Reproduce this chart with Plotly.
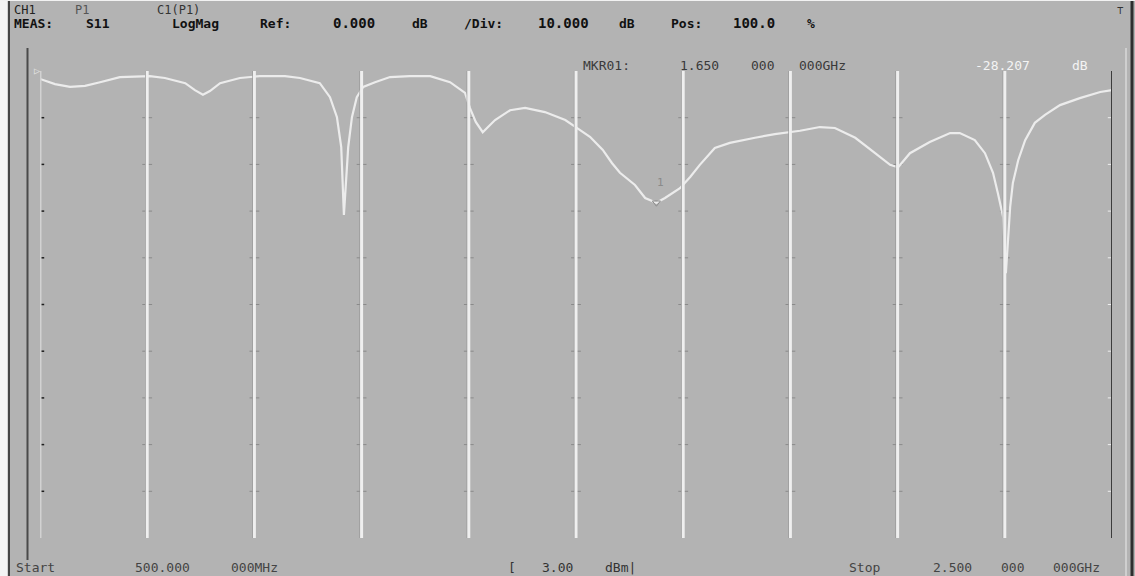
import plotly.graph_objects as go

W, H = 1135, 576

# S11 sweep, 500 MHz .. 2.5 GHz (frequency in MHz, magnitude in dB)
freq_mhz = [500, 528, 556, 584, 612, 649, 705, 733, 771, 789, 804, 817, 836, 873, 910,
            957, 985, 1022, 1041, 1054, 1062, 1067, 1075, 1082, 1091, 1103, 1125, 1153,
            1190, 1228, 1265, 1293, 1302, 1313, 1326, 1349, 1377, 1405, 1442, 1480, 1507,
            1526, 1550, 1567, 1582, 1610, 1629, 1650, 1666, 1694, 1713, 1731, 1759, 1787,
            1834, 1871, 1918, 1955, 1983, 2021, 2058, 2086, 2101, 2123, 2160, 2198, 2216,
            2244, 2263, 2278, 2287, 2297, 2302, 2310, 2315, 2325, 2338, 2356, 2375, 2403,
            2440, 2478, 2500]
s11_db = [-1.7, -2.8, -3.4, -3.2, -2.4, -1.3, -1.1, -1.5, -2.6, -4.1, -5.1, -4.3, -2.6,
          -1.5, -1.1, -1.1, -1.5, -2.6, -5.6, -9.9, -16.3, -30.8, -16.3, -9.9, -5.6, -3.4,
          -2.4, -1.3, -1.1, -1.1, -2.4, -4.7, -7.9, -10.9, -13.1, -10.5, -8.4, -7.9, -8.8,
          -10.5, -12.6, -14.1, -16.9, -19.7, -21.8, -24.4, -27.2, -28.207, -27.2, -25.1,
          -22.7, -20.1, -16.5, -15.4, -14.3, -13.5, -12.8, -12.0, -12.2, -14.3, -17.6,
          -20.1, -20.6, -17.6, -15.2, -13.3, -13.3, -14.8, -17.6, -21.8, -26.1, -31.3,
          -43.3, -29.1, -24.0, -19.1, -14.8, -11.1, -9.4, -7.3, -5.8, -4.5, -4.1]

# instrument settings
start_mhz, stop_mhz = 500, 2500
ref_db, div_db, n_div = 0.0, 10.0, 10
marker_mhz, marker_db = 1650, -28.207

bg = "#b3b3b3"


def px(x):
    return x / W


def py(y):
    return 1 - y / H


x_lo, x_hi = 40, 1112
y_top, y_bot = 71, 538

fig = go.Figure()

# graticule: vertical division lines
step = (stop_mhz - start_mhz) / n_div
grid_x = [start_mhz + step * k for k in range(1, n_div)]
mhz_per_px = (stop_mhz - start_mhz) / (x_hi - x_lo)
shapes = []
for gx in grid_x:
    shapes.append(dict(type="line", xref="x", yref="y", x0=gx - 1.6 * mhz_per_px,
                       x1=gx - 1.6 * mhz_per_px, y0=ref_db - div_db * n_div, y1=ref_db,
                       line=dict(color="#8e8e8e", width=1)))
    shapes.append(dict(type="line", xref="x", yref="y", x0=gx, x1=gx,
                       y0=ref_db - div_db * n_div, y1=ref_db,
                       line=dict(color="#efefef", width=3)))

# left and right graticule edges
shapes.append(dict(type="line", xref="x", yref="y", x0=start_mhz, x1=start_mhz,
                   y0=ref_db - div_db * n_div, y1=ref_db,
                   line=dict(color="#d2d2d2", width=3)))
shapes.append(dict(type="line", xref="x", yref="y", x0=stop_mhz, x1=stop_mhz,
                   y0=ref_db - div_db * n_div, y1=ref_db,
                   line=dict(color="#3c3c3c", width=2)))

# screen frame
shapes += [
    dict(type="rect", xref="paper", yref="paper", x0=0, x1=px(7.5), y0=0, y1=1,
         fillcolor="#f4f4f4", line=dict(width=0), layer="below"),
    dict(type="line", xref="paper", yref="paper", x0=px(9), x1=px(9), y0=0, y1=1,
         line=dict(color="#444444", width=2)),
    dict(type="line", xref="paper", yref="paper", x0=px(27.5), x1=px(27.5),
         y0=py(560), y1=py(48), line=dict(color="#4a4a4a", width=2)),
    dict(type="line", xref="paper", yref="paper", x0=px(1126), x1=px(1126),
         y0=0, y1=py(48), line=dict(color="#cfcfcf", width=2)),
    dict(type="line", xref="paper", yref="paper", x0=px(1132), x1=px(1132),
         y0=0, y1=1, line=dict(color="#2e2e2e", width=3)),
    dict(type="line", xref="paper", yref="paper", x0=0, x1=1, y0=py(0.5), y1=py(0.5),
         line=dict(color="#f2f2f2", width=1)),
]

# tick dashes on every division line
levels = [ref_db - div_db * i for i in range(n_div + 1)]
tx, ty = [], []
for gx in grid_x:
    for lv in levels[1:-1]:
        tx.append(gx)
        ty.append(lv)
fig.add_trace(go.Scatter(x=tx, y=ty, mode="markers", hoverinfo="skip", showlegend=False,
                         marker=dict(symbol="line-ew", size=7,
                                     line=dict(color="#8a8a8a", width=1))))
fig.add_trace(go.Scatter(x=[start_mhz] * (n_div - 1), y=levels[1:-1], mode="markers",
                         hoverinfo="skip", showlegend=False,
                         marker=dict(symbol="line-ew", size=6,
                                     line=dict(color="#1e1e1e", width=1.5))))
fig.add_trace(go.Scatter(x=[stop_mhz] * (n_div - 1), y=levels[1:-1], mode="markers",
                         hoverinfo="skip", showlegend=False,
                         marker=dict(symbol="line-ew", size=6,
                                     line=dict(color="#eeeeee", width=1))))

# measured trace
fig.add_trace(go.Scatter(x=freq_mhz, y=s11_db, mode="lines", showlegend=False,
                         line=dict(color="#ececec", width=2.2)))

# marker 1
fig.add_trace(go.Scatter(x=[marker_mhz], y=[marker_db], mode="markers", showlegend=False,
                         marker=dict(symbol="triangle-down-open", size=7, color="#8c8c8c",
                                     line=dict(color="#8c8c8c", width=1))))

ann = []


def label(x, y, text, size=12, color="#111111", bold=False, family="DejaVu Sans Mono",
          anchor="left"):
    t = f"<b>{text}</b>" if bold else text
    ann.append(dict(x=px(x), y=py(y), xref="paper", yref="paper", text=t, showarrow=False,
                    xanchor=anchor, yanchor="middle",
                    font=dict(family=family, size=size, color=color)))


# header, line 1
label(12, 10, "CH1", 12, "#222222")
label(73, 10, "P1", 12, "#555555")
label(155, 10, "C1(P1)", 12, "#333333")
# header, line 2
hdr = "#111111"
label(12, 23, "MEAS:", 13, hdr, True)
label(84, 23, "S11", 13, hdr, True)
label(170, 23, "LogMag", 13, hdr, True)
label(258, 23, "Ref:", 13, hdr, True)
label(331, 23, f"{ref_db:.3f}", 14, hdr, True)
label(410, 23, "dB", 13, hdr, True)
label(462, 23, "/Div:", 13, hdr, True)
label(536, 23, f"{div_db:.3f}", 14, hdr, True)
label(617, 23, "dB", 13, hdr, True)
label(669, 23, "Pos:", 13, hdr, True)
label(731, 23, "100.0", 14, hdr, True)
label(805, 23, "%", 13, hdr, True)

# marker readout
mk = "#3a3a3a"
label(581, 65, "MKR01:", 13, mk)
label(678, 65, "1.650", 13, mk)
label(749, 65, "000", 13, mk)
label(797, 65, "000GHz", 13, mk)
label(973, 65, f"{marker_db:.3f}", 13, "#f4f4f4")
label(1070, 65, "dB", 13, "#f4f4f4")

# footer
ft = "#444444"
label(14, 567, "Start", 13, ft)
label(133, 567, "500.000", 13, ft)
label(229, 567, "000MHz", 13, ft)
label(506, 567, "[", 13, "#333333")
label(540, 567, "3.00", 13, "#333333")
label(603, 567, "dBm|", 13, "#333333")
label(847, 567, "Stop", 13, ft)
label(931, 567, "2.500", 13, ft)
label(999, 567, "000", 13, ft)
label(1051, 567, "000GHz", 13, ft)

# on-screen symbols
label(32, 70, "▷", 10, "#e6e6e6")
label(1115, 10, "⊤", 11, "#333333")
ann.append(dict(x=marker_mhz + 8, y=marker_db + 4.3, xref="x", yref="y", text="1",
                showarrow=False, font=dict(family="DejaVu Sans Mono", size=11,
                                           color="#8a8a8a")))

fig.update_layout(
    width=W, height=H, margin=dict(l=0, r=0, t=0, b=0),
    paper_bgcolor=bg, plot_bgcolor=bg,
    shapes=shapes, annotations=ann,
    xaxis=dict(range=[start_mhz, stop_mhz], domain=[px(x_lo), px(x_hi)], showgrid=False,
               zeroline=False, showticklabels=False, ticks=""),
    yaxis=dict(range=[ref_db - div_db * n_div, ref_db], domain=[py(y_bot), py(y_top)],
               showgrid=False, zeroline=False, showticklabels=False, ticks=""),
)

fig.write_html("out.html")
